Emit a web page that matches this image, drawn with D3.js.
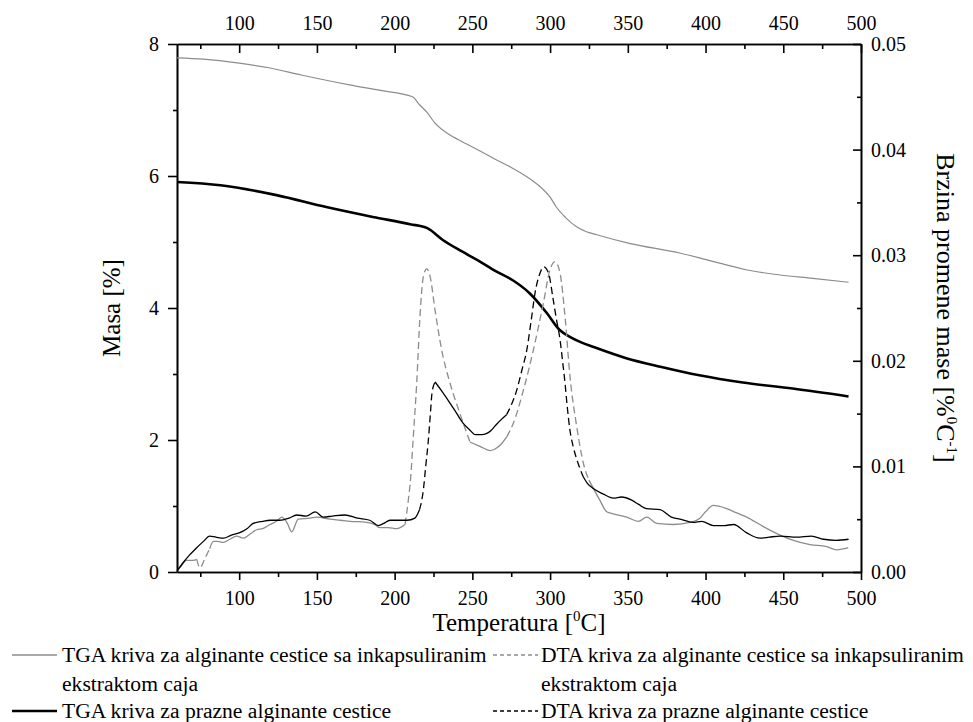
<!DOCTYPE html>
<html><head><meta charset="utf-8">
<script src="https://cdn.jsdelivr.net/npm/d3@7"></script>
<style>
body{margin:0;background:#fff;}
svg text{font-family:"Liberation Serif",serif;}
</style></head>
<body><svg id="chart" width="973" height="722" font-family="Liberation Serif, serif"></svg>
<script>
// ---- data (temperature °C, value) ----
const tgaGray = [[60,7.79],[77,7.77],[100,7.71],[119,7.64],[140,7.53],[171,7.38],[190,7.30],[211.5,7.20],[216,7.08],[220.6,6.97],[226,6.80],[235.6,6.62],[241,6.55],[255,6.38],[265,6.25],[275,6.13],[285,5.99],[293.5,5.84],[300,5.68],[304,5.53],[310,5.37],[317,5.23],[323,5.16],[330,5.11],[351,4.98],[384,4.83],[401,4.73],[426,4.58],[448,4.50],[469,4.45],[492,4.39]];
const tgaBlack = [[60,5.91],[88,5.86],[124,5.71],[156,5.53],[186,5.38],[210,5.27],[221,5.21],[231,5.03],[243,4.86],[253,4.73],[265,4.56],[276,4.42],[287,4.22],[298,3.92],[306,3.67],[313,3.56],[320,3.48],[328,3.41],[349,3.24],[371,3.11],[396,2.98],[424,2.87],[456,2.78],[492,2.66]];
const dtaGray = [[60,0.0001],[63,0.0006],[66,0.0011],[70.5,0.0011],[72.7,0.0012],[74.8,0.0004],[78,0.0013],[81,0.0022],[83.4,0.0029],[86,0.0029],[89.8,0.0028],[94,0.0031],[98.4,0.0034],[102.7,0.0032],[107,0.0036],[111.3,0.0040],[115,0.0041],[119.8,0.0045],[124,0.0048],[127.4,0.0052],[131,0.0046],[133.8,0.0038],[138,0.0050],[145.6,0.0051],[150,0.0052],[158.4,0.0050],[165,0.0049],[171.3,0.0048],[182,0.0047],[187,0.0045],[190.6,0.0042],[196,0.0042],[201.3,0.0041],[206.7,0.0045],[208.8,0.0068],[210.3,0.0089],[212,0.0128],[214.2,0.0179],[216.3,0.0242],[218.5,0.0280],[220.6,0.0287],[222.8,0.0280],[226,0.0248],[230.3,0.0210],[235.6,0.0179],[242,0.0150],[248.5,0.0123],[254.9,0.0119],[261.4,0.0115],[264,0.0116],[267.8,0.0120],[272.1,0.0128],[276.4,0.0141],[282.8,0.0172],[289.2,0.0210],[295.6,0.0254],[299.9,0.0286],[303.2,0.0294],[306.4,0.0283],[309.6,0.0242],[312.8,0.0185],[317.1,0.0138],[321.4,0.0103],[325,0.0087],[332,0.0068],[336.4,0.0057],[340.7,0.0055],[349.3,0.0052],[356.8,0.0048],[362.2,0.0052],[368.6,0.0046],[379.3,0.0045],[390,0.0047],[396.4,0.0051],[400,0.0057],[405,0.0063],[413.6,0.0060],[420,0.0056],[426.5,0.0052],[437.2,0.0043],[447.9,0.0035],[456.5,0.0030],[467.2,0.0026],[477.9,0.0024],[484.4,0.0021],[491.8,0.0023]];
const dtaBlack = [[60,0.0001],[64,0.0009],[68,0.0016],[72,0.0022],[77,0.0029],[81,0.0034],[85,0.0033],[90,0.0032],[95,0.0035],[100,0.0037],[105,0.0041],[109,0.0046],[115,0.0048],[120,0.0049],[126,0.0049],[132,0.0051],[137,0.0054],[143,0.0053],[149,0.0057],[154,0.0052],[160,0.0053],[168,0.0054],[176,0.0051],[184,0.0049],[189.5,0.0044],[193,0.0046],[197,0.0049],[203,0.0049],[208,0.0049],[213,0.0051],[216,0.0059],[218.5,0.0078],[220,0.0100],[221.7,0.0125],[223,0.0150],[224,0.0169],[226,0.0180],[230,0.0172],[235.6,0.0160],[240,0.0150],[244,0.0141],[248,0.0135],[252,0.0130],[256,0.0130],[259,0.0131],[262,0.0134],[265,0.0139],[269,0.0145],[272,0.0149],[275,0.0158],[278.5,0.0172],[282,0.0192],[285,0.0210],[288,0.0240],[290.3,0.0264],[293.5,0.0283],[296,0.0289],[299,0.0283],[302,0.0258],[304,0.0240],[306.4,0.0220],[308,0.0200],[309.6,0.0179],[311,0.0157],[312.8,0.0134],[315,0.0118],[318,0.0103],[321.4,0.0090],[324,0.0084],[327.8,0.0079],[334,0.0074],[340.7,0.0070],[346,0.0071],[352.5,0.0068],[357,0.0064],[362,0.0060],[370.7,0.0059],[378,0.0052],[383.6,0.0050],[392,0.0047],[397.5,0.0048],[405,0.0044],[412,0.0044],[418,0.0045],[426.5,0.0037],[435,0.0032],[441,0.0033],[448,0.0034],[458.6,0.0033],[468,0.0034],[476,0.0031],[484,0.0030],[492,0.0031]];

const xTicks = [100,150,200,250,300,350,400,450,500];
const leftTicks = [0,2,4,6,8];
const rightTicks = [0,0.01,0.02,0.03,0.04,0.05];
const legendLabels = [
  ["TGA kriva za alginante cestice sa inkapsuliranim","ekstraktom caja"],
  ["TGA kriva za prazne alginante cestice"],
  ["DTA kriva za alginante cestice sa inkapsuliranim","ekstraktom caja"],
  ["DTA kriva za prazne alginante cestice"]
];
// temperature ranges where the DTA traces appear dashed
const dashGray = [[73.5,82],[207,249],[273,326]];
const dashBlack = [[215.5,226.5],[272,322]];

// ---- layout ----
const FONT = "Liberation Serif, serif";
const svg = d3.select("#chart");
const L=177, R=861, T=44, B=572;
const x = d3.scaleLinear().domain([60,500]).range([L,R]);
const yL = d3.scaleLinear().domain([0,8]).range([B,T]);
const yR = d3.scaleLinear().domain([0,0.05]).range([B,T]);

const axisW = 1.6, fs = 20;

function axisGroup(axis, tx, ty){
  const g = svg.append("g").attr("transform",`translate(${tx},${ty})`).call(axis);
  g.attr("font-family",FONT).attr("font-size",fs);
  g.select(".domain").attr("stroke","#000").attr("stroke-width",axisW);
  g.selectAll(".tick line").attr("stroke","#000").attr("stroke-width",axisW);
  g.selectAll("text").attr("font-size",fs).attr("font-family",FONT).attr("fill","#000");
  return g;
}
const minorX = d3.range(75,500,50);
// bottom
axisGroup(d3.axisBottom(x).tickValues(minorX).tickSize(5).tickFormat("").tickSizeOuter(0),0,B);
axisGroup(d3.axisBottom(x).tickValues(xTicks).tickSize(8).tickPadding(11).tickSizeOuter(0),0,B);
// top (inward ticks)
axisGroup(d3.axisTop(x).tickValues(minorX).tickSize(-5).tickFormat("").tickSizeOuter(0),0,T);
axisGroup(d3.axisTop(x).tickValues(xTicks).tickSize(-9).tickPadding(14).tickSizeOuter(0),0,T);
// left
axisGroup(d3.axisLeft(yL).tickValues([1,3,5,7]).tickSize(4).tickFormat("").tickSizeOuter(0),L,0);
axisGroup(d3.axisLeft(yL).tickValues(leftTicks).tickSize(9).tickPadding(9).tickFormat(d3.format("d")).tickSizeOuter(0),L,0);
// right (inward ticks)
axisGroup(d3.axisRight(yR).tickValues([0.005,0.015,0.025,0.035,0.045]).tickSize(-4).tickFormat("").tickSizeOuter(0),R,0);
axisGroup(d3.axisRight(yR).tickValues(rightTicks).tickSize(-8).tickPadding(10).tickFormat(d3.format(".2f")).tickSizeOuter(0),R,0);

// ---- curves ----
const lineL = d3.line().x(d=>x(d[0])).y(d=>yL(d[1])).curve(d3.curveMonotoneX);
const lineR = d3.line().x(d=>x(d[0])).y(d=>yR(d[1])).curve(d3.curveMonotoneX);

svg.append("path").datum(tgaGray).attr("d",lineL).attr("fill","none").attr("stroke","#8c8c8c").attr("stroke-width",1.2);
svg.append("path").datum(tgaBlack).attr("d",lineL).attr("fill","none").attr("stroke","#000").attr("stroke-width",2.6);

function inRanges(t, ranges){ return ranges.some(r=>t>=r[0]&&t<=r[1]); }
function drawDTA(data, ranges, color){
  let runs=[], cur=null;
  for(let i=0;i<data.length-1;i++){
    const mid=(data[i][0]+data[i+1][0])/2;
    const dashed=inRanges(mid,ranges);
    if(!cur||cur.dashed!==dashed){ cur={dashed,pts:[data[i]]}; runs.push(cur); }
    cur.pts.push(data[i+1]);
  }
  runs.forEach(r=>{
    svg.append("path").datum(r.pts).attr("d",lineR).attr("fill","none")
      .attr("stroke",color).attr("stroke-width",1.3)
      .attr("stroke-dasharray",r.dashed?"7,4":null);
  });
}
drawDTA(dtaGray, dashGray, "#8c8c8c");
drawDTA(dtaBlack, dashBlack, "#000");

// ---- axis titles ----
const tf = 25;
const xt = svg.append("text").attr("x",(L+R)/2).attr("y",631).attr("text-anchor","middle").attr("font-size",tf).attr("font-family",FONT);
xt.append("tspan").text("Temperatura [");
xt.append("tspan").text("0").attr("font-size",15).attr("dy",-10);
xt.append("tspan").text("C]").attr("dy",10);

svg.append("text").attr("transform",`translate(120,${(T+B)/2}) rotate(-90)`).attr("text-anchor","middle").attr("font-size",tf).attr("font-family",FONT).text("Masa [%]");

const rt = svg.append("text").attr("transform",`translate(937,${(T+B)/2}) rotate(90)`).attr("text-anchor","middle").attr("font-size",26).attr("font-family",FONT);
rt.append("tspan").text("Brzina promene mase [%");
rt.append("tspan").text("0").attr("font-size",15).attr("dy",-10);
rt.append("tspan").text("C").attr("dy",10);
rt.append("tspan").text("-1").attr("font-size",15).attr("dy",-10);
rt.append("tspan").text("]").attr("dy",10);

// ---- legend ----
const lfs = 21.6;
const legendItems = [
  {lx:12, tx:62, y:655, rows:legendLabels[0], color:"#8c8c8c", w:1.3, dash:null},
  {lx:12, tx:62, y:711, rows:legendLabels[1], color:"#000", w:2.6, dash:null},
  {lx:493, tx:541, y:655, rows:legendLabels[2], color:"#8c8c8c", w:1.3, dash:"4,3"},
  {lx:493, tx:541, y:711, rows:legendLabels[3], color:"#000", w:1.3, dash:"4,3"}
];
legendItems.forEach(it=>{
  svg.append("line").attr("x1",it.lx).attr("x2",it.lx+45).attr("y1",it.y).attr("y2",it.y)
    .attr("stroke",it.color).attr("stroke-width",it.w).attr("stroke-dasharray",it.dash);
  it.rows.forEach((r,i)=>{
    svg.append("text").attr("x",it.tx).attr("y",it.y+7+i*29).attr("font-size",lfs).attr("font-family",FONT).text(r);
  });
});
</script></body></html>
